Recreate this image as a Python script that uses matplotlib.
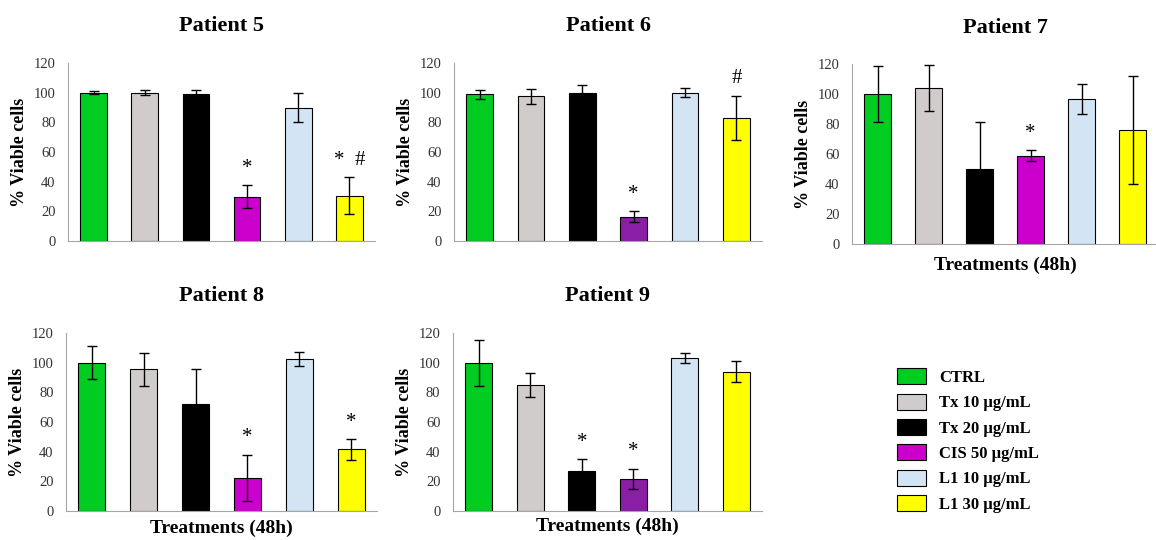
import numpy as np
from matplotlib import pyplot as plt
from matplotlib.patches import Patch

plt.rcParams['font.family'] = ['Liberation Serif', 'DejaVu Serif']

treatments = ["CTRL", "Tx 10 \u03bcg/mL", "Tx 20 \u03bcg/mL", "CIS 50 \u03bcg/mL",
              "L1 10 \u03bcg/mL", "L1 30 \u03bcg/mL"]

p5_mean = [100, 100, 99, 30, 90, 30.5]
p5_err = [1, 1.5, 2.5, 7.5, 9.5, 12.5]
p5_marks = ["", "", "", "*", "", "*  #"]

p6_mean = [99, 97.5, 100, 16.5, 100, 83]
p6_err = [3, 5, 5.5, 3.5, 3, 15]
p6_marks = ["", "", "", "*", "", "#"]

p7_mean = [100, 104, 50, 59, 97, 76]
p7_err = [18.5, 15.5, 31.5, 3.5, 10, 36]
p7_marks = ["", "", "", "*", "", ""]

p8_mean = [100, 95.5, 72, 22.5, 102.5, 41.5]
p8_err = [11, 11, 24, 15.5, 4.5, 7]
p8_marks = ["", "", "", "*", "", "*"]

p9_mean = [100, 85, 27, 21.5, 103, 94]
p9_err = [15.5, 8, 8, 7, 3.3, 7]
p9_marks = ["", "", "*", "*", "", ""]

colors = ["#00cc22", "#d0cccc", "#000000", "#cc00cc", "#d3e5f4", "#ffff00"]
purple = "#8a1fa6"


def bar_panel(rect, title, mean, err, marks, cis_color, xlabel=None, title_pad=23):
    ax = fig.add_axes(rect)
    x = np.arange(len(mean))
    cols = list(colors)
    cols[3] = cis_color
    ax.bar(x, mean, width=0.52, color=cols, edgecolor="black", linewidth=0.8,
           yerr=err, capsize=3.5, error_kw=dict(ecolor="black", elinewidth=1, capthick=1))
    for xi, m, e, s in zip(x, mean, err, marks):
        if s:
            ax.text(xi, m + e + 5, s, ha="center", va="bottom", fontsize=15)
    ax.set_xlim(-0.5, len(mean) - 0.5)
    ax.set_ylim(0, 120)
    ax.set_yticks(range(0, 121, 20))
    ax.set_xticks([])
    ax.tick_params(axis="y", length=0, pad=9, labelsize=10.5, labelcolor="#333333")
    for sp in ["top", "right"]:
        ax.spines[sp].set_visible(False)
    for sp in ["left", "bottom"]:
        ax.spines[sp].set_color("#a6a6a6")
    ax.set_ylabel("% Viable cells", fontsize=13, fontweight="bold", labelpad=4)
    ax.set_title(title, fontsize=16, fontweight="bold", pad=title_pad)
    if xlabel is not None:
        ax.set_xlabel("Treatments (48h)", fontsize=14, fontweight="bold", labelpad=xlabel)
    return ax


W, H = 1156, 540
fig = plt.figure(figsize=(W / 100, H / 100), dpi=100)


def rect(left, right, ybot, ytop):
    return [left / W, 1 - ybot / H, (right - left) / W, (ybot - ytop) / H]


bar_panel(rect(68, 375, 241, 63), "Patient 5", p5_mean, p5_err, p5_marks, colors[3])
bar_panel(rect(454, 762, 241, 63), "Patient 6", p6_mean, p6_err, p6_marks, purple)
bar_panel(rect(852, 1158, 244, 64), "Patient 7", p7_mean, p7_err, p7_marks, colors[3],
          xlabel=9, title_pad=22)
bar_panel(rect(66, 377, 511, 333), "Patient 8", p8_mean, p8_err, p8_marks, colors[3],
          xlabel=6)
bar_panel(rect(453, 762, 511, 333), "Patient 9", p9_mean, p9_err, p9_marks, purple,
          xlabel=5)

handles = [Patch(facecolor=c, edgecolor="black", linewidth=0.8) for c in colors]
fig.legend(handles, treatments, loc="upper left", bbox_to_anchor=(884 / W, 1 - 355 / H),
           frameon=False, prop=dict(weight="bold", size=12), handlelength=1.75,
           handleheight=1.1, labelspacing=0.46, handletextpad=0.75, borderpad=0.3)

fig.savefig("out.png", dpi=100)
